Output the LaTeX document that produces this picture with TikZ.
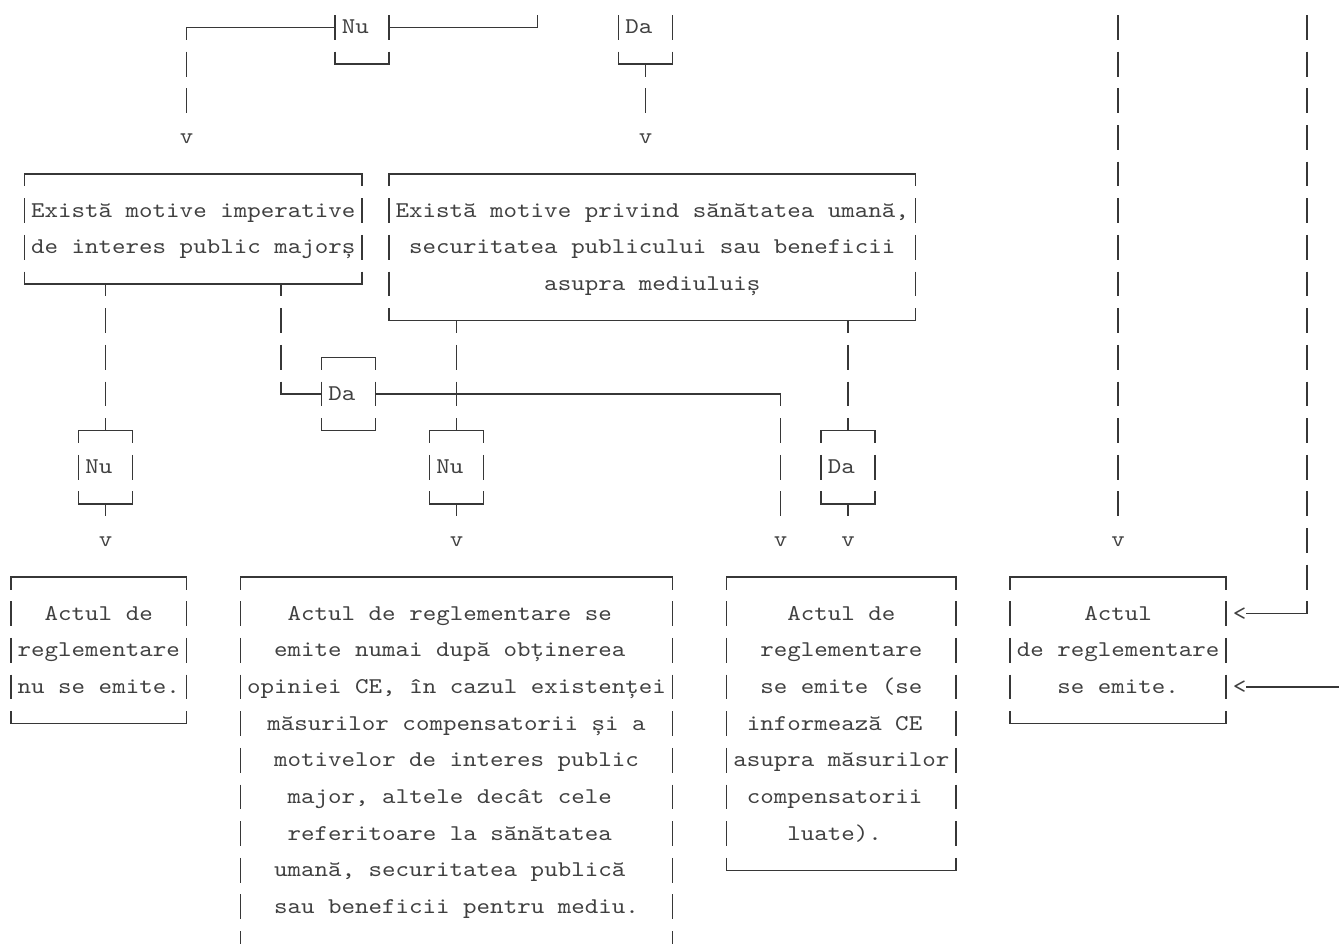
\documentclass[tikz,border=0pt]{standalone}
\usepackage{fontspec}
\newfontfamily\mono[FakeStretch=1.1429]{lmmono10-regular.otf}
\definecolor{lc}{RGB}{55,55,55}
\definecolor{tc}{RGB}{64,64,64}
\newcommand\sr{\rule[-11.82pt]{0pt}{36.64pt}}
\tikzset{
  hl/.style={draw=lc, line width=1.4pt, line cap=rect},
  vl/.style={draw=lc, line width=1.4pt, dash pattern=on 24.8pt off 11.84pt, dash phase=12.4pt},
  box/.style={inner sep=0pt, outer sep=0pt, align=center, text=tc,
    font=\mono\fontsize{22.5pt}{36.64pt}\selectfont},
  cell/.style={inner sep=0pt, outer sep=0pt, minimum width=13.5pt,
    text height=24.82pt, text depth=11.82pt, text=tc,
    font=\mono\fontsize{22.5pt}{36.64pt}\selectfont},
}
% name, col1, col2, row1, row2, text
\newcommand\mkbox[6]{%
  \node[box, minimum width={(#3-#2)*13.5pt}, minimum height={(#5-#4)*36.64pt}]
    (#1) at ({(#2+#3)/2},{(#4+#5)/2}) {#6};
  \draw[hl] (#1.north west) -- (#1.north east);
  \draw[hl] (#1.south west) -- (#1.south east);
  \draw[vl] (#1.north west) -- (#1.south west);
  \draw[vl] (#1.north east) -- (#1.south east);
}
\begin{document}
\begin{tikzpicture}[x=13.5pt, y=-36.64pt]
\useasboundingbox (-11pt,27.5pt) rectangle (1328pt,-916.5pt);
\fill[white] (-11pt,27.5pt) rectangle (1328pt,-916.5pt);
\clip (-11pt,13.6pt) rectangle (1328pt,-916.5pt);

% ---------- boxes ----------
\mkbox{nutop}{24}{28}{-1}{1}{\sr Nu\hphantom{x}}
\mkbox{datop}{45}{49}{-1}{1}{\sr Da\hphantom{x}}
\mkbox{b1}{1}{26}{4}{7}{\sr Există motive imperative\\\sr de interes public majorș}
\mkbox{b2}{28}{67}{4}{8}{\sr Există motive privind sănătatea umană,\\\sr securitatea publicului sau beneficii\\\sr asupra mediuluiș}
\mkbox{damid}{23}{27}{9}{11}{\sr Da\hphantom{x}}
\mkbox{nu1}{5}{9}{11}{13}{\sr Nu\hphantom{x}}
\mkbox{nu2}{31}{35}{11}{13}{\sr Nu\hphantom{x}}
\mkbox{da2}{60}{64}{11}{13}{\sr Da\hphantom{x}}
\mkbox{b3}{0}{13}{15}{19}{\sr Actul de\\\sr reglementare\\\sr nu se emite.}
\mkbox{b4}{17}{49}{15}{26}{\sr Actul de reglementare se\hphantom{x}\\
  \sr emite numai după obținerea\hphantom{x}\\
  \sr opiniei CE, în cazul existenței\\
  \sr măsurilor compensatorii și a\\
  \sr motivelor de interes public\\
  \sr major, altele decât cele\hphantom{x}\\
  \sr referitoare la sănătatea\hphantom{x}\\
  \sr umană, securitatea publică\hphantom{x}\\
  \sr sau beneficii pentru mediu.\\
  \sr}
\mkbox{b5}{53}{70}{15}{23}{\sr Actul de\\\sr reglementare\\\sr se emite (se\\
  \sr informează CE\hphantom{x}\\\sr asupra măsurilor\\\sr compensatorii\hphantom{x}\\
  \sr luate).\hphantom{x}}
\mkbox{b6}{74}{90}{15}{19}{\sr Actul\\\sr de reglementare\\\sr se emite.}

% ---------- arrow heads (text) ----------
\node[cell] (v1) at (13,3) {v};
\node[cell] (v2) at (47,3) {v};
\node[cell] (v3) at (7,14) {v};
\node[cell] (v4) at (33,14) {v};
\node[cell] (v5) at (57,14) {v};
\node[cell] (v6) at (62,14) {v};
\node[cell] (v7) at (82,14) {v};
\node[cell] (lt1) at (91,16) {<};
\node[cell] (lt2) at (91,18) {<};

% ---------- free ends and corners ----------
\coordinate (k0) at (13,0);
\coordinate (u1) at (39,-1);
\coordinate (u2) at (82,-1);
\coordinate (u3) at (96,-1);
\coordinate (k3) at (96,16);
\coordinate (e1) at (100,18);
\coordinate (k1) at (20,10);
\coordinate (k2) at (57,10);

% ---------- connectors ----------
\draw[hl] (nutop.west) -- (k0);
\draw[vl] (k0) -- (v1.north);
\draw[hl] (nutop.east) -- (u1 |- nutop.east);
\draw[vl] (u1) -- (u1 |- nutop.east);
\draw[vl] (datop.south) -- (v2.north);

\draw[vl] (u2) -- (v7.north);
\draw[vl] (u3) -- (k3);
\draw[hl] (k3) -- (lt1.east);
\draw[hl] (e1) -- (lt2.east);

\draw[vl] (nu1.north |- b1.south) -- (nu1.north);
\draw[vl] (k1 |- b1.south) -- (k1);
\draw[hl] (k1) -- (damid.west);
\draw[hl] (damid.east) -- (k2);
\draw[vl] (k2) -- (v5.north);

\draw[vl] (nu2.north |- b2.south) -- (nu2.north);
\draw[vl] (da2.north |- b2.south) -- (da2.north);

\draw[vl] (nu1.south) -- (v3.north);
\draw[vl] (nu2.south) -- (v4.north);
\draw[vl] (da2.south) -- (v6.north);
\end{tikzpicture}
\end{document}
